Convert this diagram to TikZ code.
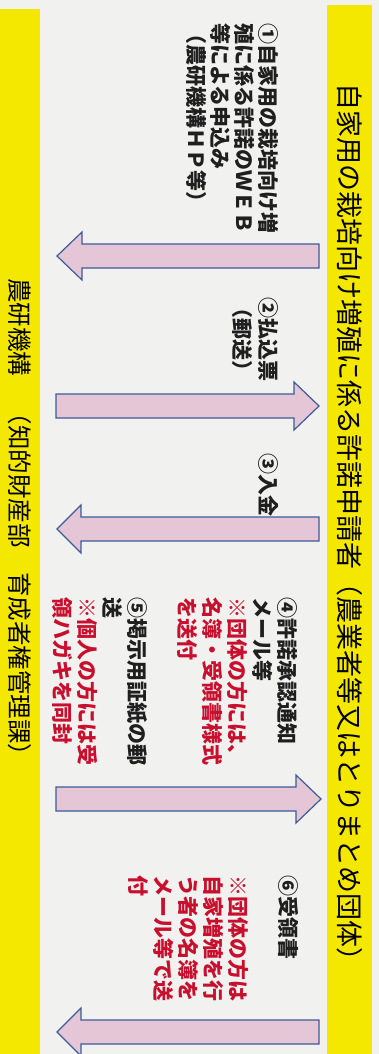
\documentclass[tikz,border=0pt]{standalone}
\usepackage{fontspec}
\newfontfamily\jp{Noto Sans CJK JP}
\definecolor{bandyellow}{RGB}{245,232,0}
\definecolor{paper}{RGB}{241,241,239}
\definecolor{arrowpink}{RGB}{228,198,214}
\definecolor{arrowblue}{RGB}{62,92,150}
\definecolor{notered}{RGB}{200,16,46}
\newcommand{\fatarrow}[4]{\draw[fatarrow] ({#1-12},#2)--({#1-12},#3)--({#1-24},#3)--(#1,#4)--({#1+24},#3)--({#1+12},#3)--({#1+12},#2)--cycle;}

\begin{document}
\begin{tikzpicture}[x=1pt,y=1pt,rotate=-90,transform shape,
	bar/.style={fill=bandyellow,inner sep=0pt},
	fatarrow/.style={draw=arrowblue,fill=arrowpink,line width=1.2pt,line join=miter},
	stepnote/.style={inner sep=0pt,anchor=north west,align=left,text={black!88},font=\jp\bfseries\fontsize{21}{25}\selectfont}]
	\useasboundingbox (0,0) rectangle (1054,379);\fill[paper] (0,0) rectangle (1054,379);
	\node[bar,minimum width=1049pt,minimum height=45pt,font=\jp\fontsize{27}{27}\selectfont] (appl) at (529.5,349.5) {自家用の栽培向け増殖に係る許諾申請者（農業者等又はとりまとめ団体）};
	\node[bar,minimum width=1045pt,minimum height=40pt] (naro) at (531.5,20) {};
	\node[inner sep=0pt,font=\jp\fontsize{24.5}{24.5}\selectfont] (narotext) at (523,20) {農研機構　（知的財産部　育成者権管理課）};
	\fatarrow{256}{319}{82}{57}
	\fatarrow{406}{56}{294}{319}
	\fatarrow{529}{319}{81}{57}
	\fatarrow{799}{56}{296}{321}
	\fatarrow{1032}{319}{81}{57}
	\node[stepnote,font=\jp\bfseries\fontsize{21}{24}\selectfont] (step1) at (23,278.5) {①自家用の栽培向け増\\殖に係る許諾のＷＥＢ\\等による申込み\\（農研機構ＨＰ等）};
	\node[stepnote,anchor=north,align=center,font=\jp\bfseries\fontsize{21}{26}\selectfont] (step2) at (339,278.5) {②払込票\\（郵送）};
	\node[stepnote] (step3) at (453,278.5) {③入金};
	\node[stepnote] (step4) at (597,297.5) {④許諾承認通知\\メール等\\\textcolor{notered}{※団体の方には、}\\\textcolor{notered}{名簿・受領書様式}\\\textcolor{notered}{を送付}};
	\node[stepnote] (step5) at (597,147.5) {⑤掲示用証紙の郵\\送\\\textcolor{notered}{※個人の方には受}\\\textcolor{notered}{領ハガキを同封}};
	\node[stepnote] (step6) at (875,298.5) {⑥受領書\\[25pt]\textcolor{notered}{※団体の方は}\\\textcolor{notered}{自家増殖を行}\\\textcolor{notered}{う者の名簿を}\\\textcolor{notered}{メール等で送}\\\textcolor{notered}{付}};
\end{tikzpicture}
\end{document}
